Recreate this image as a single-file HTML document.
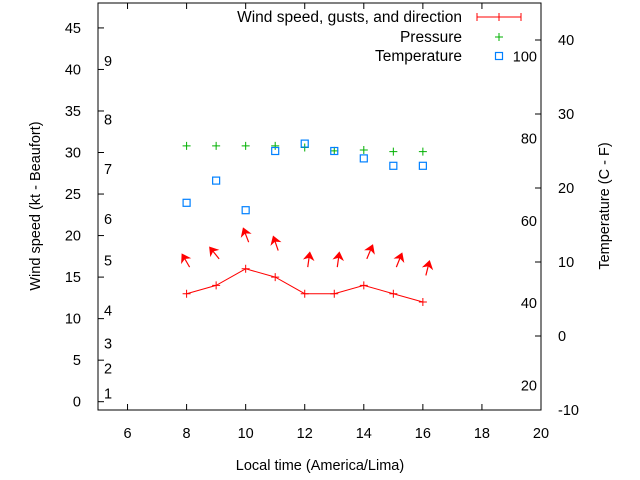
<!DOCTYPE html>
<html><head><meta charset="utf-8"><style>
html,body{margin:0;padding:0;background:#fff;}
svg{display:block;font-family:"Liberation Sans",sans-serif;font-size:14.5px;}
</style></head><body>
<svg id="chart" width="640" height="480">
<g id="axes"></g><g id="marks"></g><g id="legend"></g>
</svg>
<script>
const hours=[8,9,10,11,12,13,14,15,16];
const wind=[13,14,16,15,13,13,14,13,12];
const windDir=[-30,-39,-21,-19,8,8,23,22,14];
const pressure=[30.8,30.8,30.8,30.8,30.6,30.2,30.3,30.1,30.1];
const tempC=[18,21,17,25,26,25,24,23,23];
const xTicks=[6,8,10,12,14,16,18,20];
const yTicks=[0,5,10,15,20,25,30,35,40,45];
const y2Ticks=[-10,0,10,20,30,40];
const beaufortNums=[1,2,3,4,5,6,7,8,9];
const beaufortAt=[1,4,7,11,17,22,28,34,41];
const fahr=[20,40,60,80,100];

const NS="http://www.w3.org/2000/svg";
const L=98,R=541,T=3,B=410;
const X=v=>L+(v-5)/(20-5)*(R-L);
const Y=v=>B-(v+1)/(48+1)*(B-T);
const Y2=v=>B-(v+10)/(45+10)*(B-T);
function mk(tag,attrs,parent,txt){const e=document.createElementNS(NS,tag);for(const k in attrs)e.setAttribute(k,attrs[k]);if(txt!==undefined)e.textContent=txt;parent.appendChild(e);return e;}
const axes=document.getElementById('axes'),marks=document.getElementById('marks'),leg=document.getElementById('legend');

let e=mk('rect',{x:L,y:T,width:R-L,height:B-T,fill:'none',stroke:'#000','stroke-width':1},axes);

xTicks.forEach(t=>{const x=X(t);
 mk('line',{x1:x,y1:B,x2:x,y2:B-6,stroke:'#000'},axes);
 mk('line',{x1:x,y1:T,x2:x,y2:T+6,stroke:'#000'},axes);
 e=mk('text',{x:x,y:438,'text-anchor':'middle'},axes,t);
 });
yTicks.forEach(t=>{const y=Y(t);
 mk('line',{x1:L,y1:y,x2:L+6,y2:y,stroke:'#000'},axes);
 e=mk('text',{x:81,y:y+5,'text-anchor':'end'},axes,t);
 });
y2Ticks.forEach(t=>{const y=Y2(t);
 mk('line',{x1:R,y1:y,x2:R-6,y2:y,stroke:'#000'},axes);
 e=mk('text',{x:558,y:y+5},axes,t);
 });
beaufortNums.forEach((n,i)=>{e=mk('text',{x:104,y:Y(beaufortAt[i])+5},axes,n);
 });
fahr.forEach(f=>{const c=(f-32)*5/9;e=mk('text',{x:537,y:Y2(c)+5,'text-anchor':'end'},axes,f);
 });
e=mk('text',{x:320,y:470,'text-anchor':'middle'},axes,'Local time (America/Lima)');

e=mk('text',{x:0,y:0,'text-anchor':'middle',transform:'translate(40,206) rotate(-90)'},axes,'Wind speed (kt - Beaufort)');

e=mk('text',{x:0,y:0,'text-anchor':'middle',transform:'translate(609,206) rotate(-90)'},axes,'Temperature (C - F)');


e=mk('polyline',{points:hours.map((h,i)=>X(h)+','+Y(wind[i])).join(' '),fill:'none',stroke:'#f00','stroke-width':1},marks);

hours.forEach((h,i)=>{const x=X(h),y=Y(wind[i]);
 const g=mk('g',{},marks);
 mk('path',{d:`M${x-4},${y}h8M${x},${y-4}v8`,stroke:'#f00'},g);
 const a=windDir[i]*Math.PI/180,len=13.5,tx=x+3,ty=Y(wind[i]+3.2);
 const hx=tx+Math.sin(a)*len,hy=ty-Math.cos(a)*len;
 const ar=mk('g',{},marks);
 mk('line',{x1:tx,y1:ty,x2:hx,y2:hy,stroke:'#f00','stroke-width':1.2},ar);
 const ux=Math.sin(a),uy=-Math.cos(a),px=-uy,py=ux;
 mk('polygon',{points:`${hx+ux*1.5},${hy+uy*1.5} ${hx-ux*5.5+px*4.5},${hy-uy*5.5+py*4.5} ${hx-ux*3.5},${hy-uy*3.5} ${hx-ux*5.5-px*4.5},${hy-uy*5.5-py*4.5}`,fill:'#f00',stroke:'#f00','stroke-width':1},ar);
});
hours.forEach((h,i)=>{const x=X(h),y=Y(pressure[i]);
 e=mk('path',{d:`M${x-4},${y}h8M${x},${y-4}v8`,stroke:'#00b000'},marks);
 });
hours.forEach((h,i)=>{const x=X(h),y=Y2(tempC[i]);
 e=mk('rect',{x:x-3.5,y:y-3.5,width:7,height:7,fill:'none',stroke:'#0080ff','stroke-width':1.2},marks);
 });

e=mk('text',{x:462,y:22,'text-anchor':'end','font-size':'15.5px'},leg,'Wind speed, gusts, and direction');

e=mk('path',{d:'M477,17h44M477,13v8M521,13v8M499,13v8',stroke:'#f00',fill:'none'},leg);

e=mk('text',{x:462,y:42,'text-anchor':'end','font-size':'15.5px'},leg,'Pressure');

e=mk('path',{d:'M495,37h8M499,33v8',stroke:'#00b000'},leg);

e=mk('text',{x:462,y:61,'text-anchor':'end','font-size':'15.5px'},leg,'Temperature');

e=mk('rect',{x:495.5,y:52.5,width:7,height:7,fill:'none',stroke:'#0080ff','stroke-width':1.2},leg);

</script>
</body></html>
